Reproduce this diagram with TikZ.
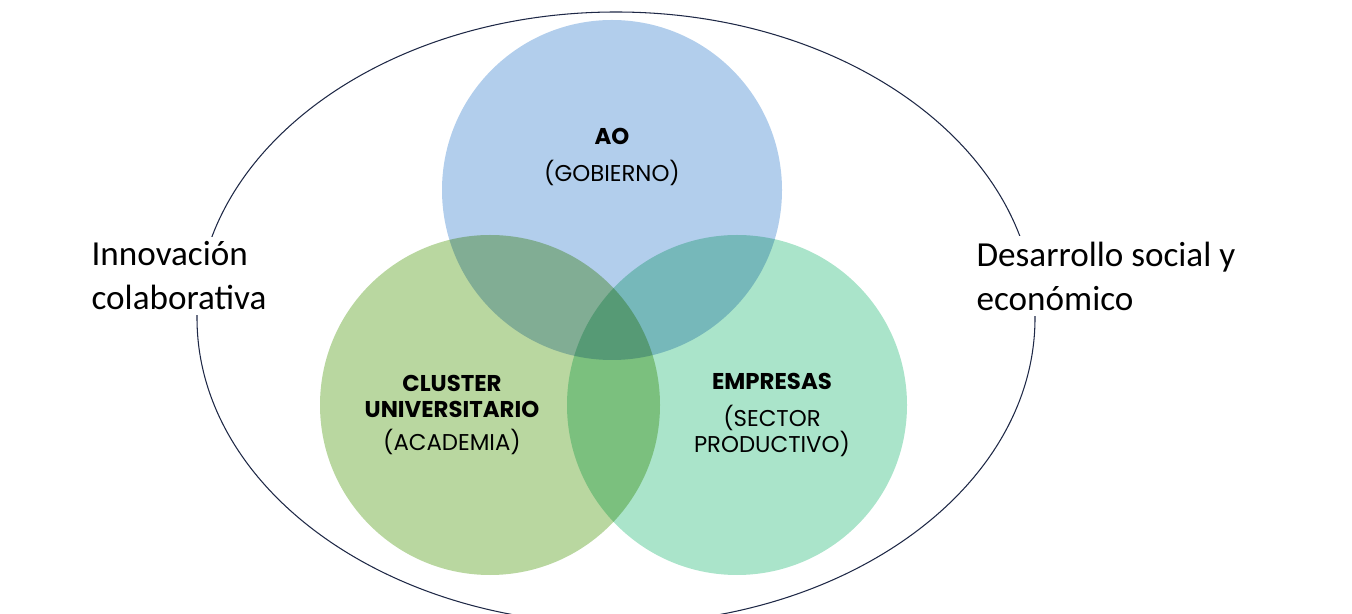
\documentclass[tikz,border=0pt]{standalone}
\usepackage{fontspec}
\setmainfont{Carlito}
\newfontfamily\lblfont{Poppins}
\begin{document}
\begin{tikzpicture}[x=0.02cm,y=-0.02cm]
\tikzset{
  circ/.style={circle,minimum size=340*0.02cm,inner sep=0pt,draw=none},
  lbl/.style={align=center,font=\lblfont\fontsize{13}{17}\selectfont,text=black},
  side/.style={align=left,anchor=west,fill=white,inner sep=3pt,font=\fontsize{20}{25}\selectfont}
}
\useasboundingbox (0,0) rectangle (1352,614);
\draw[color={rgb,255:red,30;green,40;blue,70},semithick] (616,318) ellipse[x radius=419,y radius=306];
\begin{scope}[blend group=multiply]
\node[circ,fill={rgb,255:red,178;green,206;blue,236}] (gob) at (612,190) {};
\node[circ,fill={rgb,255:red,185;green,215;blue,160}] (aca) at (490,405) {};
\node[circ,fill={rgb,255:red,170;green,228;blue,202}] (emp) at (737,405) {};
\end{scope}
\node[lbl] (gobt) at (612,157) {\textbf{AO}\\[4pt](GOBIERNO)};
\node[lbl] (acat) at (452,415) {\textbf{CLUSTER}\\[-2pt]\textbf{UNIVERSITARIO}\\[2pt](ACADEMIA)};
\node[lbl] (empt) at (772,415) {\textbf{EMPRESAS}\\[4pt](SECTOR\\[-2pt]PRODUCTIVO)};
\node[side] (inno) at (86,276) {Innovación\\colaborativa};
\node[side] (desa) at (971,276) {Desarrollo social y\\económico};
\end{tikzpicture}
\end{document}
